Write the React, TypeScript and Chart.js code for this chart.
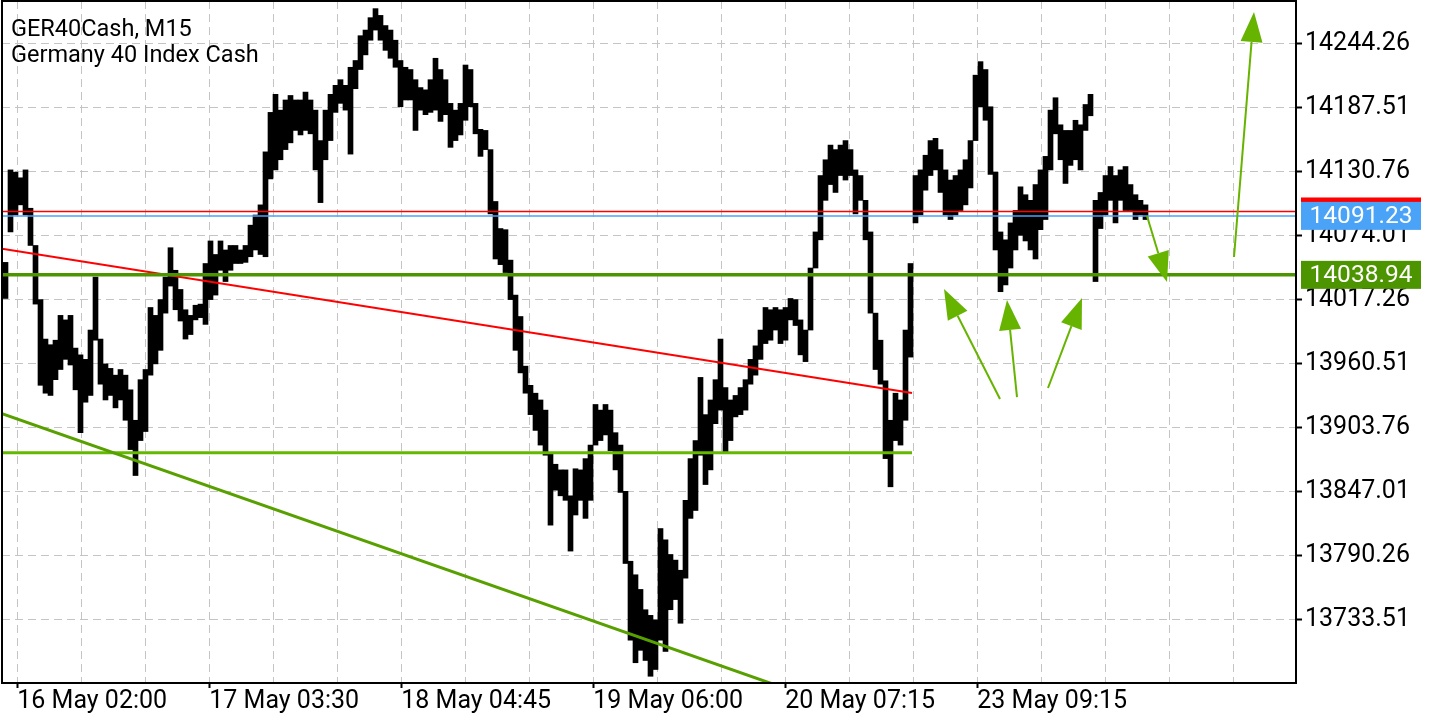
import React, { useEffect, useRef } from 'react';
import { Chart, registerables } from 'chart.js';
Chart.register(...registerables);

// ---- price data (one column = a group of M15 bars) ----
const highs = [
  14050, 14132, 14130, 14125, 14132, 14098, 14065, 14017, 13982, 13977,
  13981, 14003, 13999, 14003, 13974, 13968, 13964, 13990, 14037, 13982,
  13960, 13956, 13950, 13955, 13950, 13937, 13910, 13946, 13955, 14010,
  14003, 14017, 14037, 14063, 14043, 14026, 14008, 14003, 14012, 14013,
  14049, 14069, 14057, 14069, 14061, 14065, 14065, 14061, 14065, 14083,
  14092, 14101, 14148, 14183, 14199, 14185, 14194, 14198, 14194, 14194,
  14201, 14194, 14185, 14158, 14185, 14199, 14207, 14212, 14207, 14223,
  14229, 14251, 14256, 14267, 14275, 14269, 14260, 14256, 14247, 14229,
  14223, 14221, 14212, 14205, 14203, 14212, 14231, 14221, 14212, 14191,
  14185, 14191, 14225, 14221, 14191, 14168, 14167, 14150, 14104, 14080,
  14079, 14052, 14021, 14002, 13958, 13941, 13934, 13928, 13919, 13880,
  13871, 13866, 13866, 13843, 13867, 13866, 13876, 13888, 13924, 13919,
  13924, 13919, 13899, 13888, 13847, 13785, 13773, 13760, 13742, 13737,
  13733, 13814, 13804, 13791, 13786, 13777, 13839, 13876, 13892, 13948,
  13915, 13928, 13946, 13982, 13939, 13928, 13932, 13939, 13946, 13964,
  13976, 13990, 14010, 14008, 14010, 14008, 14010, 14018, 14017, 13999,
  13990, 14045, 14077, 14127, 14141, 14154, 14150, 14154, 14158, 14150,
  14132, 14127, 14105, 14077, 14005, 13981, 13945, 13910, 13934, 13928,
  13990, 14049, 14127, 14132, 14145, 14158, 14160, 14150, 14132, 14123,
  14127, 14132, 14141, 14158, 14216, 14228, 14221, 14188, 14130, 14077,
  14070, 14085, 14096, 14117, 14110, 14105, 14119, 14132, 14144, 14185,
  14196, 14172, 14167, 14167, 14176, 14172, 14190, 14199, 14105, 14112,
  14127, 14135, 14127, 14132, 14135, 14119, 14110, 14105, 14101,
];
const lows = [
  14018, 14077, 14092, 14101, 14092, 14065, 14013, 13941, 13934, 13932,
  13946, 13955, 13964, 13959, 13937, 13899, 13926, 13932, 13981, 13942,
  13928, 13932, 13921, 13928, 13910, 13884, 13861, 13892, 13900, 13950,
  13960, 13972, 14005, 14029, 14008, 13998, 13982, 13986, 13999, 14001,
  13995, 14017, 14021, 14043, 14033, 14043, 14049, 14049, 14050, 14055,
  14061, 14057, 14055, 14124, 14132, 14141, 14150, 14156, 14167, 14163,
  14167, 14164, 14132, 14103, 14141, 14158, 14183, 14191, 14185, 14146,
  14204, 14221, 14234, 14247, 14256, 14247, 14238, 14231, 14223, 14188,
  14194, 14194, 14167, 14185, 14181, 14183, 14185, 14175, 14181, 14152,
  14158, 14163, 14176, 14188, 14164, 14144, 14150, 14093, 14053, 14048,
  14041, 14017, 13972, 13952, 13934, 13915, 13901, 13888, 13879, 13817,
  13848, 13843, 13839, 13794, 13826, 13839, 13823, 13839, 13888, 13892,
  13897, 13883, 13866, 13846, 13783, 13715, 13695, 13706, 13697, 13683,
  13689, 13715, 13705, 13742, 13751, 13730, 13770, 13823, 13830, 13879,
  13853, 13866, 13907, 13919, 13881, 13892, 13913, 13915, 13919, 13942,
  13950, 13964, 13978, 13981, 13990, 13978, 13981, 13999, 13994, 13968,
  13962, 13990, 14045, 14070, 14105, 14119, 14112, 14127, 14123, 14127,
  14093, 14105, 14070, 14005, 13955, 13942, 13876, 13851, 13892, 13888,
  13910, 13966, 14085, 14092, 14114, 14127, 14132, 14112, 14092, 14088,
  14092, 14096, 14101, 14116, 14158, 14188, 14176, 14128, 14061, 14024,
  14030, 14045, 14061, 14074, 14069, 14061, 14053, 14079, 14088, 14132,
  14164, 14141, 14120, 14136, 14141, 14132, 14167, 14180, 14033, 14080,
  14092, 14105, 14085, 14105, 14096, 14096, 14088, 14092, 14088,
];

const xTickLabels = ['16 May 02:00', '17 May 03:30', '18 May 04:45', '19 May 06:00', '20 May 07:15', '23 May 09:15'];
const xGridStart = 2.36;
const xGridStep = 12.8;
const xGridCount = 20;
const yTickValues = [13733.51, 13790.26, 13847.01, 13903.76, 13960.51, 14017.26, 14074.01, 14130.76, 14187.51, 14244.26];

const X_MIN = -0.7;
const X_MAX = 258.1;
const Y_MIN = 13677.03;
const Y_MAX = 14281.77;

const bidPrice = 14091.23;
const askPrice = 14095.13;
const levelPrice = 14038.94;
const supportPrice = 13881.26;
const supportEnd = 181.3;
const redTrend = [{ x: -0.7, y: 14062.0 }, { x: 181.3, y: 13934.2 }];
const greenTrend = [{ x: -0.7, y: 13915.8 }, { x: 178.9, y: 13636.6 }];

// arrows: [tailX, tailPrice, tipX, tipPrice]
const arrows = [
  [198.9, 13928.9, 187.7, 14026.4],
  [202.3, 13930.6, 200.3, 14016.6],
  [208.5, 13938.6, 215.3, 14018.4],
  [228.3, 14091.1, 232.3, 14032.6],
  [245.7, 14054.8, 249.7, 14272.0],
];

const titleLines = ['GER40Cash, M15', 'Germany 40 Index Cash'];

const FONT = 'Roboto';
const AXIS_FONT_SIZE = 25;

const overlayPlugin = {
  id: 'overlay',
  afterDatasetsDraw(chart: any) {
    const { ctx, chartArea, scales } = chart;
    const xs = scales.x, ys = scales.y;
    ctx.save();
    ctx.beginPath();
    ctx.rect(chartArea.left, chartArea.top, chartArea.right - chartArea.left, chartArea.bottom - chartArea.top);
    ctx.clip();
    ctx.strokeStyle = '#66b400';
    ctx.fillStyle = '#66b400';
    ctx.lineWidth = 2;
    for (const a of arrows) {
      const x1 = xs.getPixelForValue(a[0]);
      const y1 = ys.getPixelForValue(a[1]);
      const x2 = xs.getPixelForValue(a[2]);
      const y2 = ys.getPixelForValue(a[3]);
      const dx = x2 - x1, dy = y2 - y1;
      const len = Math.hypot(dx, dy);
      const ux = dx / len, uy = dy / len;
      const hl = 30, hw = 11;
      const bx = x2 - ux * hl, by = y2 - uy * hl;
      ctx.beginPath();
      ctx.moveTo(x1, y1);
      ctx.lineTo(bx, by);
      ctx.stroke();
      ctx.beginPath();
      ctx.moveTo(x2, y2);
      ctx.lineTo(bx - uy * hw, by + ux * hw);
      ctx.lineTo(bx + uy * hw, by - ux * hw);
      ctx.closePath();
      ctx.fill();
    }
    ctx.restore();
    ctx.save();
    ctx.strokeStyle = '#000';
    ctx.lineWidth = 2;
    ctx.strokeRect(chartArea.left, chartArea.top, chartArea.right - chartArea.left, chartArea.bottom - chartArea.top);
    ctx.restore();
  },
  afterDraw(chart: any) {
    const { ctx, chartArea, scales } = chart;
    const ys = scales.y;
    ctx.save();
    ctx.fillStyle = '#000';
    ctx.font = `23.5px ${FONT}`;
    ctx.textBaseline = 'middle';
    ctx.textAlign = 'left';
    ctx.fillText(titleLines[0], 11, 30);
    ctx.fillText(titleLines[1], 11, 56);
    const bx = chartArea.right + 5;
    const bw = 120, bh = 28;
    const box = (price: number, color: string, text: string | null) => {
      const y = ys.getPixelForValue(price);
      ctx.fillStyle = color;
      ctx.fillRect(bx, y - bh / 2, bw, bh);
      if (text) {
        ctx.fillStyle = '#fff';
        ctx.font = `24.5px ${FONT}`;
        ctx.textAlign = 'center';
        ctx.fillText(text, bx + bw / 2, y + 1);
      }
    };
    box(askPrice, '#ff0000', null);
    box(bidPrice, '#4aa3f7', bidPrice.toFixed(2));
    box(levelPrice, '#4c9400', levelPrice.toFixed(2));
    ctx.restore();
  },
};

export default function App() {
  const ref = useRef<HTMLCanvasElement>(null);
  useEffect(() => {
    document.body.style.margin = '0';
    const bars = highs.map((h, i) => ({ x: i, y: [lows[i], h] }));
    const gridVals = Array.from({ length: xGridCount }, (_, k) => xGridStart + xGridStep * k);
    const chart = new Chart(ref.current as HTMLCanvasElement, {
      type: 'bar',
      data: {
        datasets: [
          {
            type: 'bar',
            data: bars as any,
            backgroundColor: '#000',
            borderWidth: 0,
            barPercentage: 1,
            categoryPercentage: 1,
            order: 10,
          } as any,
          {
            type: 'line',
            data: [{ x: X_MIN, y: askPrice }, { x: X_MAX, y: askPrice }],
            borderColor: '#ff0000', borderWidth: 1.5, pointRadius: 0, order: 5,
          },
          {
            type: 'line',
            data: [{ x: X_MIN, y: bidPrice }, { x: X_MAX, y: bidPrice }],
            borderColor: '#4aa3f7', borderWidth: 1.5, pointRadius: 0, order: 5,
          },
          {
            type: 'line',
            data: redTrend,
            borderColor: '#ff0000', borderWidth: 2, pointRadius: 0, order: 4,
          },
          {
            type: 'line',
            data: greenTrend,
            borderColor: '#58a000', borderWidth: 3, pointRadius: 0, order: 4,
          },
          {
            type: 'line',
            data: [{ x: X_MIN, y: supportPrice }, { x: supportEnd, y: supportPrice }],
            borderColor: '#64b800', borderWidth: 3, pointRadius: 0, order: 4,
          },
          {
            type: 'line',
            data: [{ x: X_MIN, y: levelPrice }, { x: X_MAX, y: levelPrice }],
            borderColor: '#4c9400', borderWidth: 3.5, pointRadius: 0, order: 3,
          },
        ] as any,
      },
      options: {
        animation: false,
        responsive: true,
        maintainAspectRatio: false,
        layout: { padding: { left: 2, top: 1, right: 0, bottom: 0 } },
        plugins: { legend: { display: false }, tooltip: { enabled: false } },
        scales: {
          x: {
            type: 'linear',
            min: X_MIN,
            max: X_MAX,
            offset: false,
            grid: {
              offset: false,
              color: '#c4c4c4',
              lineWidth: 1,
              tickLength: 5,
              tickWidth: 2,
              tickColor: (c: any) => (c.index % 3 === 0 && c.index / 3 < xTickLabels.length ? '#000' : 'rgba(0,0,0,0)'),
            },
            border: { display: false, dash: [8, 5] },
            ticks: {
              autoSkip: false,
              maxRotation: 0,
              minRotation: 0,
              align: 'start',
              padding: -1,
              color: '#000',
              font: { family: FONT, size: AXIS_FONT_SIZE },
              callback: (_v: any, i: number) => (i % 3 === 0 ? xTickLabels[i / 3] ?? '' : ''),
            },
            afterBuildTicks: (s: any) => { s.ticks = gridVals.map((v) => ({ value: v })); },
            afterFit: (s: any) => { s.height = 37; s.paddingLeft = 0; s.paddingRight = 0; },
          },
          y: {
            type: 'linear',
            position: 'right',
            min: Y_MIN,
            max: Y_MAX,
            grid: { color: '#c4c4c4', lineWidth: 1, tickLength: 6, tickWidth: 2, tickColor: '#000' },
            border: { display: false, dash: [8, 5] },
            ticks: {
              padding: 3,
              color: '#000',
              font: { family: FONT, size: AXIS_FONT_SIZE },
              callback: (v: any) => Number(v).toFixed(2),
            },
            afterBuildTicks: (s: any) => { s.ticks = yTickValues.map((v) => ({ value: v })); },
            afterFit: (s: any) => { s.width = 144; s.paddingTop = 0; s.paddingBottom = 0; },
          },
        },
      } as any,
      plugins: [overlayPlugin],
    });
    return () => chart.destroy();
  }, []);
  return (
    <div style={{ width: 1440, height: 720, position: 'relative', background: '#fff' }}>
      <canvas ref={ref} />
    </div>
  );
}
